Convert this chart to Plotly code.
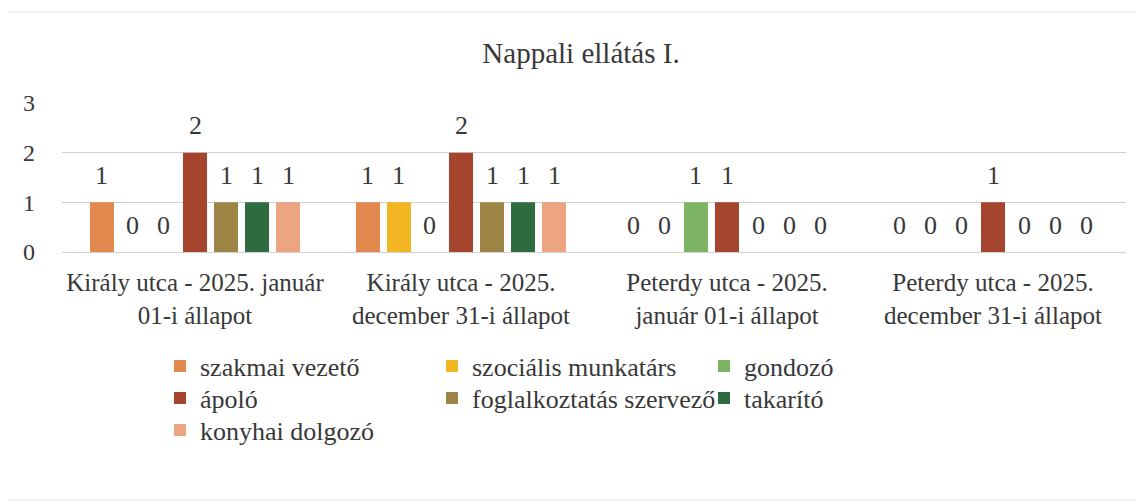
import plotly.graph_objects as go

categories = [
    "Király utca - 2025. január<br>01-i állapot",
    "Király utca - 2025.<br>december 31-i állapot",
    "Peterdy utca - 2025.<br>január 01-i állapot",
    "Peterdy utca - 2025.<br>december 31-i állapot",
]
series_names = [
    "szakmai vezető",
    "szociális munkatárs",
    "gondozó",
    "ápoló",
    "foglalkoztatás szervező",
    "takarító",
    "konyhai dolgozó",
]
szakmai_vezeto = [1, 1, 0, 0]
szocialis_munkatars = [0, 1, 0, 0]
gondozo = [0, 0, 1, 0]
apolo = [2, 2, 1, 1]
foglalkoztatas_szervezo = [1, 1, 0, 0]
takarito = [1, 1, 0, 0]
konyhai_dolgozo = [1, 1, 0, 0]
series_values = [szakmai_vezeto, szocialis_munkatars, gondozo, apolo,
                 foglalkoztatas_szervezo, takarito, konyhai_dolgozo]
y_ticks = [0, 1, 2, 3]

colors = ["#E2894F", "#F2B622", "#7DB463", "#A6452D", "#9D8546", "#2E6B3F", "#EDA581"]
# legend rows (Excel-like 3-column legend)
legend_rows = ["legend", "legend", "legend", "legend2", "legend2", "legend2", "legend3"]

# the page body adds an 8px margin; work in reference pixels and convert
OFF = 8
W, H = 1144 - OFF, 504 - OFF
PL, PR, PT, PB = 62, 1126, 103, 252          # plot area in reference pixels
L, T = PL - OFF, PT - OFF
R = W - (PR - OFF)
B = H - (PB - OFF)
plot_w = PR - PL
plot_h = PB - PT
bargap = 0.184
bargroupgap = 0.226
n = len(series_names)
pitch = (plot_w / len(categories)) * (1 - bargap) / n

FONT = "Liberation Serif"
TXT = "#383838"

def px_to_paper_x(px):
    return (px - PL) / plot_w

def px_to_paper_y(py):
    return (PB - py) / plot_h

fig = go.Figure()
for i, (name, vals) in enumerate(zip(series_names, series_values)):
    fig.add_trace(go.Bar(
        name=name, x=categories, y=vals,
        marker=dict(color=colors[i], line=dict(width=0)),
        legend=legend_rows[i],
        hoverinfo="skip",
    ))
    for c, v in zip(categories, vals):
        fig.add_annotation(
            x=c, y=v, xref="x", yref="y", text=str(v), showarrow=False,
            xshift=(i - (n - 1) / 2) * pitch, yshift=27, yanchor="middle",
            font=dict(family=FONT, size=26, color=TXT),
        )

leg_common = dict(
    orientation="h", xanchor="left", yanchor="middle",
    font=dict(family=FONT, size=26, color=TXT),
    bgcolor="rgba(0,0,0,0)", entrywidth=227, entrywidthmode="pixels",
    traceorder="normal", borderwidth=0,
)
LEG_X = 160
fig.update_layout(
    width=W, height=H,
    margin=dict(l=L, r=R, t=T, b=B, pad=0, autoexpand=False),
    paper_bgcolor="white", plot_bgcolor="white",
    barmode="group", bargap=bargap, bargroupgap=bargroupgap,
    title=dict(text="Nappali ellátás I.", x=px_to_paper_x(581), xref="paper",
               xanchor="center", y=1 - (53 - OFF) / H, yref="container", yanchor="middle",
               font=dict(family=FONT, size=29, color=TXT)),
    font=dict(family=FONT, color=TXT),
    xaxis=dict(showgrid=False, showline=False, ticks="", zeroline=False,
               tickfont=dict(family=FONT, size=25, color=TXT), ticklabelstandoff=13),
    yaxis=dict(range=[0, 3], tickvals=y_ticks, showgrid=True, gridcolor="#d0d0d0",
               gridwidth=1, zeroline=True, zerolinecolor="#d0d0d0", zerolinewidth=1,
               showline=False, ticks="", ticklabelstandoff=26,
               tickfont=dict(family=FONT, size=24, color=TXT)),
    legend=dict(x=px_to_paper_x(LEG_X), y=px_to_paper_y(366), **leg_common),
    legend2=dict(x=px_to_paper_x(LEG_X), y=px_to_paper_y(398), **leg_common),
    legend3=dict(x=px_to_paper_x(LEG_X), y=px_to_paper_y(430), **leg_common),
    showlegend=True,
)

fig.add_shape(type="rect", xref="paper", yref="paper",
              x0=px_to_paper_x(5), x1=px_to_paper_x(1140),
              y0=px_to_paper_y(500), y1=px_to_paper_y(12),
              line=dict(color="#e0e0e0", width=1), fillcolor="rgba(0,0,0,0)", layer="below")

fig.write_html("out.html")
